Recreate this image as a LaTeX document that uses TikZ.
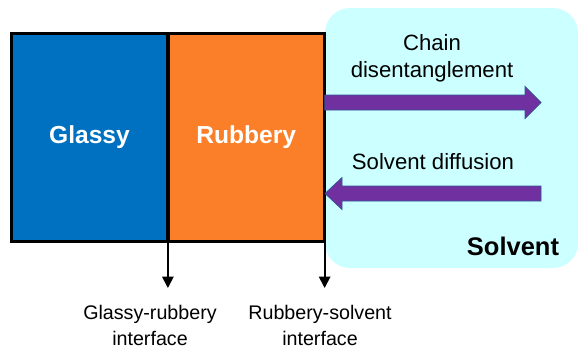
\documentclass[tikz,border=0pt]{standalone}
\usepackage{fontspec}
\setmainfont{Liberation Sans}
\usetikzlibrary{positioning}
\usetikzlibrary{calc}
\usetikzlibrary{arrows.meta}

\definecolor{glassyblue}{HTML}{0070C0}
\definecolor{rubberyorange}{HTML}{FA7F28}
\definecolor{solventcyan}{HTML}{CCFFFF}
\definecolor{fatpurple}{HTML}{7030A0}
\definecolor{fatedge}{HTML}{2F5597}

\tikzset{
  layer/.style={minimum width=3.1cm, minimum height=4.14cm, inner sep=0pt,
    draw=black, line width=1pt, text=white,
    font=\bfseries\fontsize{14}{17}\selectfont},
  fatarrow/.style={fill=fatpurple, draw=fatedge, line width=0.4pt},
  flowlabel/.style={align=center, font=\fontsize{12.6}{15.4}\selectfont},
  iflabel/.style={align=center, font=\fontsize{11.2}{14.8}\selectfont},
  pointer/.style={line width=1pt, -{Triangle[length=6.5pt,width=6.5pt]}}
}

\begin{document}
\begin{tikzpicture}
\useasboundingbox (0,0) rectangle (11.56,7);

% solvent region
\fill[solventcyan, rounded corners=0.5cm] (6.5,1.64) rectangle (11.56,6.84);
\node (solvent) at (10.26,2.08) {\bfseries\fontsize{14.5}{17}\selectfont Solvent};

% the two layers
\node[layer, fill=glassyblue] (glassy) at (1.79,4.25) {Glassy};
\node[layer, fill=rubberyorange, right=0pt of glassy] (rubbery) {Rubbery};
\draw[line width=1.8pt] (glassy.north west) rectangle (rubbery.south east);

% chain disentanglement, going out
\fill[fatarrow] (rubbery.east |- 0,5.1) -- (10.5,5.1) -- (10.5,5.27)
  -- (10.82,4.95) -- (10.5,4.63) -- (10.5,4.8) -- (rubbery.east |- 0,4.8) -- cycle;
\node[flowlabel] (chain) at (8.64,5.83) {Chain\\disentanglement};

% solvent diffusion, going in
\fill[fatarrow] (10.82,3.28) -- (6.84,3.28) -- (6.84,3.45) -- (6.5,3.13)
  -- (6.84,2.81) -- (6.84,2.98) -- (10.82,2.98) -- cycle;
\node[flowlabel] (diffusion) at (8.66,3.76) {Solvent diffusion};

% interfaces
\coordinate (gr) at (glassy.south east |- 0,1.24);
\coordinate (rs) at (rubbery.south east |- 0,1.24);
\draw[pointer] (glassy.south east) -- (gr);
\draw[pointer] (rubbery.south east) -- (rs);
\node[iflabel] (grlabel) at (3.0,0.5) {Glassy-rubbery\\interface};
\node[iflabel] (rslabel) at (6.4,0.5) {Rubbery-solvent\\interface};
\end{tikzpicture}
\end{document}
